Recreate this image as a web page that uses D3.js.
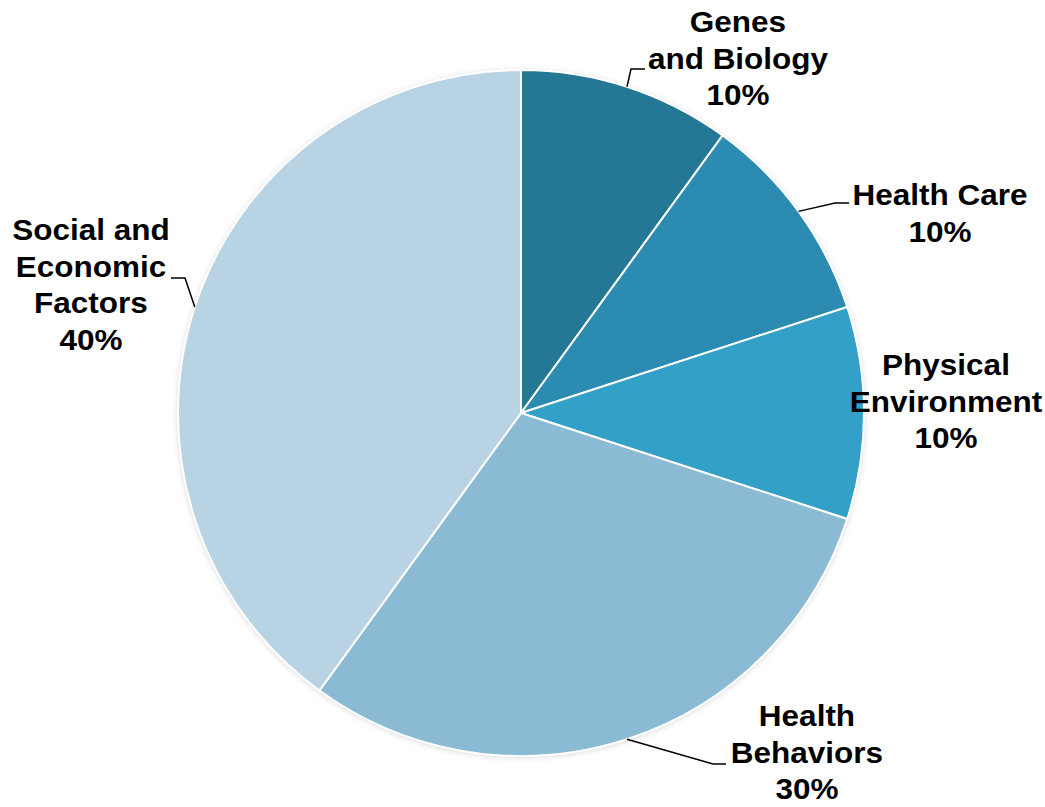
<!DOCTYPE html>
<html>
<head>
<meta charset="utf-8">
<script src="https://cdn.jsdelivr.net/npm/d3@7"></script>
<style>
  body { margin: 0; background: #fff; }
  text { font-family: "Liberation Sans", Arial, sans-serif; font-weight: bold; fill: #000; }
</style>
</head>
<body>
<svg id="chart" width="1045" height="807"></svg>
<script>
const categories = ['Genes and Biology', 'Health Care', 'Physical Environment', 'Health Behaviors', 'Social and Economic Factors'];
const values = [10, 10, 10, 30, 40];
const labelLines = [
  ['Genes', 'and Biology', '10%'],
  ['Health Care', '10%'],
  ['Physical', 'Environment', '10%'],
  ['Health', 'Behaviors', '30%'],
  ['Social and', 'Economic', 'Factors', '40%']
];
const colors = ['#247795', '#2c8bb0', '#33a0c8', '#8bbbd4', '#b8d3e4'];

// label placement (layout only)
const labelPos = [
  { x: 738, y: 22, knee: [631, 69], end: [645, 69] },
  { x: 940, y: 195, knee: [835, 203], end: [849, 203] },
  { x: 946, y: 365, knee: null },
  { x: 807, y: 716, knee: [713, 764], end: [726, 764] },
  { x: 91, y: 230, knee: [185, 278], end: [171, 278] }
];

const cx = 521, cy = 413, radius = 343, lineH = 36.5;

const svg = d3.select('#chart');

const defs = svg.append('defs');
const f = defs.append('filter').attr('id', 'shadow')
  .attr('x', '-10%').attr('y', '-10%').attr('width', '120%').attr('height', '120%');
f.append('feDropShadow').attr('dx', 0).attr('dy', 1).attr('stdDeviation', 3)
  .attr('flood-color', '#000').attr('flood-opacity', 0.18);

const pie = d3.pie().value(d => d).sort(null);
const arc = d3.arc().innerRadius(0).outerRadius(radius);
const arcs = pie(values);

const g = svg.append('g').attr('transform', `translate(${cx}, ${cy})`);

g.append('circle').attr('r', radius).attr('fill', '#fff').attr('filter', 'url(#shadow)');

g.selectAll('path')
  .data(arcs)
  .enter()
  .append('path')
  .attr('d', arc)
  .attr('fill', (d, i) => colors[i])
  .attr('stroke', '#fff')
  .attr('stroke-width', 2);

// leader lines
arcs.forEach((d, i) => {
  const p = labelPos[i];
  if (!p.knee) return;
  const a = (d.startAngle + d.endAngle) / 2;
  const sx = cx + Math.sin(a) * radius, sy = cy - Math.cos(a) * radius;
  svg.append('polyline')
    .attr('points', [[sx, sy], p.knee, p.end].map(q => q.join(',')).join(' '))
    .attr('fill', 'none')
    .attr('stroke', '#000')
    .attr('stroke-width', 1.5);
});

// labels
labelLines.forEach((lines, i) => {
  const p = labelPos[i];
  const t = svg.append('text')
    .attr('text-anchor', 'middle')
    .attr('font-size', 30)
    .attr('transform', `translate(${p.x},0) scale(1.05,1) translate(${-p.x},0)`);
  lines.forEach((s, j) => {
    t.append('tspan')
      .attr('x', p.x)
      .attr('y', p.y + j * lineH)
      .attr('dy', '0.35em')
      .text(s);
  });
});
</script>
</body>
</html>
